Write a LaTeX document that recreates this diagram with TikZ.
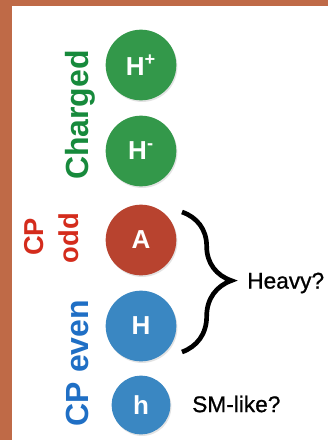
\documentclass[tikz,border=0pt]{standalone}
\usepackage{fontspec}
\setmainfont{Liberation Sans}
\usetikzlibrary{decorations.pathreplacing,shadows}
\definecolor{frame}{HTML}{BF6A47}
\definecolor{cgreen}{HTML}{33984A}
\definecolor{cred}{HTML}{B8432F}
\definecolor{cblue}{HTML}{3A87C2}
\definecolor{tgreen}{HTML}{178A3C}
\definecolor{tred}{HTML}{D42C1C}
\definecolor{tblue}{HTML}{1F6FC5}
\begin{document}
\begin{tikzpicture}[x=0.75pt,y=-0.75pt,
  particle/.style={circle,fill=#1,inner sep=0pt,text=white,
     font=\fontsize{19.5}{22}\selectfont\bfseries,
     drop shadow={opacity=0.22,shadow xshift=0.8pt,shadow yshift=-1.2pt}},
  biglabel/.style={rotate=90,anchor=base,font=\fontsize{24}{28}\selectfont\bfseries,text=#1,inner sep=0pt},
  redlabel/.style={rotate=90,anchor=base,font=\fontsize{20.5}{24}\selectfont\bfseries,text=tred,inner sep=0pt},
  note/.style={anchor=west,font=\fontsize{17}{20}\selectfont\addfontfeature{FakeBold=0.8},inner sep=0pt},
  bracestyle/.style={line width=3.5pt,decorate,decoration={brace,amplitude=37pt,aspect=0.49}}]
\useasboundingbox (0,0) rectangle (328,440);
\fill[frame] (0,0) rectangle (328,440);
\fill[white] (12,6) rectangle (328,440);
% circles
\node[particle=cgreen,minimum size=53pt] (hp) at (141,65) {H\textsuperscript{+}};
\node[particle=cgreen,minimum size=53pt] (hm) at (141,151) {H\textsuperscript{-}};
\node[particle=cred,minimum size=53pt] (A) at (141,240) {A};
\node[particle=cblue,minimum size=53pt] (H) at (141,326) {H};
\node[particle=cblue,minimum size=44pt] (h) at (141,405) {h};
% side labels
\node[biglabel=tgreen] (charged) at (88,115) {Charged};
\node[redlabel] (cp1) at (43,237) {CP};
\node[redlabel] (odd) at (78,238) {odd};
\node[biglabel=tblue] (cpeven) at (88,363) {CP even};
% brace
\coordinate (bt) at (182,212);
\coordinate (bb) at (182,352);
\draw[bracestyle] (bt) -- (bb);
\node[note] (heavy) at (247,283) {Heavy?};
\node[note] (sm) at (192,404) {SM-like?};
\end{tikzpicture}
\end{document}
